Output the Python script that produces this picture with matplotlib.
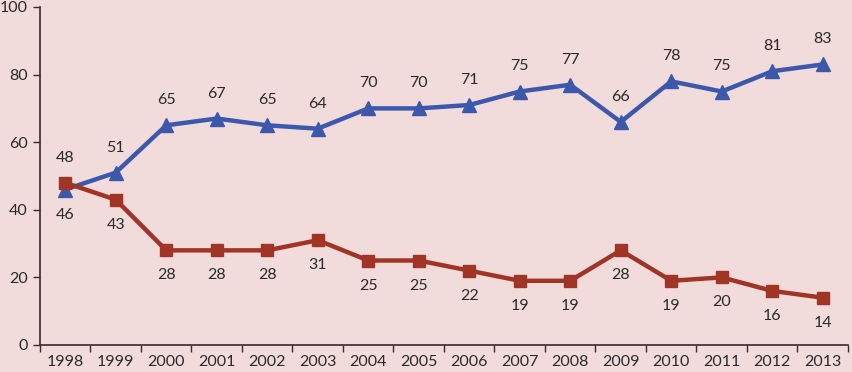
import matplotlib
matplotlib.use("Agg")
import matplotlib.pyplot as plt

years = ["1998", "1999", "2000", "2001", "2002", "2003", "2004", "2005",
         "2006", "2007", "2008", "2009", "2010", "2011", "2012", "2013"]
blue_vals = [46, 51, 65, 67, 65, 64, 70, 70, 71, 75, 77, 66, 78, 75, 81, 83]
red_vals = [48, 43, 28, 28, 28, 31, 25, 25, 22, 19, 19, 28, 19, 20, 16, 14]

BG = "#f2dcdb"
BLUE = "#3c58ad"
RED = "#a03526"
AX = "#3a2a2a"

plt.rcParams['font.family'] = ['Lato', 'DejaVu Sans']

fig = plt.figure(figsize=(8.53, 3.72), dpi=100, facecolor=BG)
ax = fig.add_axes([40/853, 27/372, 808/853, 338/372], facecolor=BG)

x = list(range(len(years)))
ax.plot(x, blue_vals, color=BLUE, lw=3.2, marker='^', ms=10, zorder=3)
ax.plot(x, red_vals, color=RED, lw=3.2, marker='s', ms=8.5, zorder=3)

for i, (b, r) in enumerate(zip(blue_vals, red_vals)):
    if b < r:
        boff, roff = -18, 18
    else:
        boff, roff = 18, -18
    ax.annotate(str(b), (i, b), xytext=(0, boff), textcoords='offset points',
                ha='center', va='center', fontsize=11.5, color='#2a2a2a')
    ax.annotate(str(r), (i, r), xytext=(0, roff), textcoords='offset points',
                ha='center', va='center', fontsize=11.5, color='#2a2a2a')

ax.set_xlim(-0.5, len(years) - 0.5)
ax.set_ylim(0, 100)
ax.set_yticks([0, 20, 40, 60, 80, 100])
ax.set_xticks(x)
ax.set_xticklabels(years)
ax.set_xticks([i - 0.5 for i in range(len(years) + 1)], minor=True)
ax.tick_params(axis='x', which='major', length=0, pad=7, labelsize=11.5, colors='#2a2a2a')
ax.tick_params(axis='x', which='minor', length=5, color=AX, width=1)
ax.tick_params(axis='y', length=5, color=AX, width=1, labelsize=11.5, colors='#2a2a2a', pad=4)
for s in ['top', 'right']:
    ax.spines[s].set_visible(False)
for s in ['left', 'bottom']:
    ax.spines[s].set_color(AX)
    ax.spines[s].set_linewidth(1.2)

fig.savefig("out.png", dpi=100, facecolor=BG)
